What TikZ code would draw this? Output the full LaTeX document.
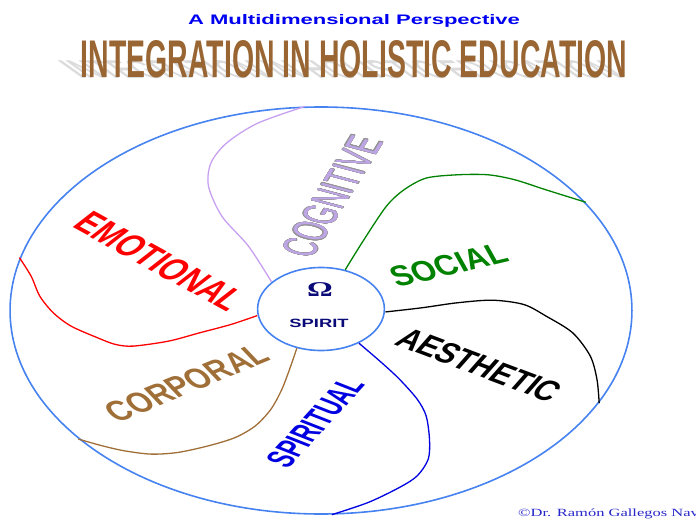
\documentclass[tikz,border=0pt]{standalone}
\usepackage{fontspec}
\setmainfont{Liberation Sans}
\newfontfamily\serifface{Liberation Serif}
\usepackage[copies]{contour}
\contourlength{0.35pt}
\definecolor{rimblue}{RGB}{70,130,240}
\definecolor{navy}{RGB}{10,10,120}
\definecolor{lavline}{RGB}{200,160,240}
\definecolor{lavtext}{RGB}{190,165,230}
\definecolor{socgreen}{RGB}{0,130,0}
\definecolor{spirblue}{RGB}{0,0,225}
\definecolor{corpbrown}{RGB}{160,110,55}
\definecolor{titlebrown}{RGB}{153,102,51}
\definecolor{subblue}{RGB}{0,0,240}
\definecolor{creditblue}{RGB}{40,40,200}

\begin{document}
\begin{tikzpicture}[x=1pt,y=-1pt,
  spoke/.style={line width=1.3pt},
  dimlabel/.style={transform shape,inner sep=0pt,rotate=#1,xscale=0.72}]
\useasboundingbox (0,0) rectangle (696,519);
% headings
\node(subtitle)[anchor=base,inner sep=0pt,text=subblue] at (354,25){\resizebox{332pt}{10pt}{\bfseries A Multidimensional Perspective}};
\node(shadow)[anchor=south,inner sep=0pt,text=gray!28,xslant=-1.4,transform shape] at (354,79){\resizebox{546pt}{18pt}{\bfseries INTEGRATION IN HOLISTIC EDUCATION}};
\node(title)[anchor=south,inner sep=0pt,text=titlebrown] at (354,78){\resizebox{546pt}{37pt}{\bfseries INTEGRATION IN HOLISTIC EDUCATION}};
% the wheel, drawn round and stretched sideways
\begin{scope}[shift={(321,310.5)},xscale=1.528]
\node(rim)[circle,draw=rimblue,line width=1.6pt,inner sep=0pt,minimum size=407pt,transform shape] at (0,0){};
\node(spirit)[circle,draw=rimblue,line width=1.6pt,inner sep=0pt,minimum size=83pt,transform shape] at (0,-1.5){};
\node(omega)[transform shape,inner sep=0pt,text=navy,font=\serifface\bfseries\fontsize{21}{21}\selectfont] at (-0.6,-20.5){Ω};
\node(spiritlbl)[transform shape,inner sep=0pt,text=navy,font=\bfseries\fontsize{12}{12}\selectfont] at (-1.3,12.5){SPIRIT};
\path[draw,spoke,lavline] plot[smooth] coordinates {(spirit.140) (-47.4,-64.2) (-64.8,-94.1) (-73.6,-124.1) (-72.1,-147.3) (-61.9,-167.3) (-41.6,-187.2) (rim.93)};
\path[draw,spoke,socgreen] plot[smooth] coordinates {(spirit.68) (28.1,-70.8) (42.7,-104.1) (54.3,-120.7) (68.8,-132.4) (89.1,-135.7) (109.4,-135.7) (126.9,-130.7) (147.2,-120.7) (rim.32)};
\path[draw,spoke,black] plot[smooth] coordinates {(spirit.-4) (65.9,-2.7) (89.1,-7.7) (112.2,-10.3) (132.7,-6) (147.3,5.6) (164.7,22.3) (176.2,45.5) (180.6,68.8) (rim.-27)};
\path[draw,spoke,spirblue] plot[smooth] coordinates {(spirit.-54) (39.7,52.2) (51.4,68.8) (63,88.8) (68.8,105.4) (71,128.7) (70.2,148.6) (63,165.3) (51.4,176.9) (31,191.9) (rim.-88)};
\path[draw,spoke,corpbrown] plot[smooth] coordinates {(spirit.248) (-19.8,55.5) (-25.6,78.8) (-32.8,98.8) (-43,115.4) (-56.1,127) (-73.6,135.3) (-93.9,142) (-111.3,143.6) (-128.7,140.3) (-143.2,135.3) (rim.219)};
\path[draw,spoke,red] plot[smooth] coordinates {(spirit.189) (-59,14) (-79.4,22.3) (-99.7,30.6) (-122.9,35.6) (-134.6,33.9) (-146.2,27.3) (-163.6,15.6) (-175.2,2.3) (-184,-14.3) (-189.7,-34.3) (rim.165)};
% dimension names
\node(emotional)[dimlabel=-40,text=red,font=\bfseries\fontsize{31}{31}\selectfont] at (-105.4,-49){EMOTIONAL};
\node(cognitive)[dimlabel=68,font=\fontsize{32}{32}\selectfont] at (7.5,-114){\color{lavtext}\contour{gray!85}{COGNITIVE}};
\node(social)[dimlabel=20,text=socgreen,font=\bfseries\fontsize{29}{29}\selectfont] at (83.8,-45.5){SOCIAL};
\node(aesthetic)[dimlabel=-30,text=black,font=\bfseries\fontsize{29}{29}\selectfont] at (103.4,54.5){AESTHETIC};
\node(spiritual)[dimlabel=59,text=spirblue,font=\bfseries\fontsize{26}{26}\selectfont] at (-3.9,112){SPIRITUAL};
\node(corporal)[dimlabel=32,text=corpbrown,font=\bfseries\fontsize{29}{29}\selectfont] at (-87.7,72.5){CORPORAL};
\end{scope}
\node(credit)[anchor=base west,inner sep=0pt,text=creditblue,font=\serifface\fontsize{11}{11}\selectfont] at (518,516){\scalebox{1.5}[1]{©Dr. Ramón Gallegos Nava}};
\end{tikzpicture}
\end{document}
